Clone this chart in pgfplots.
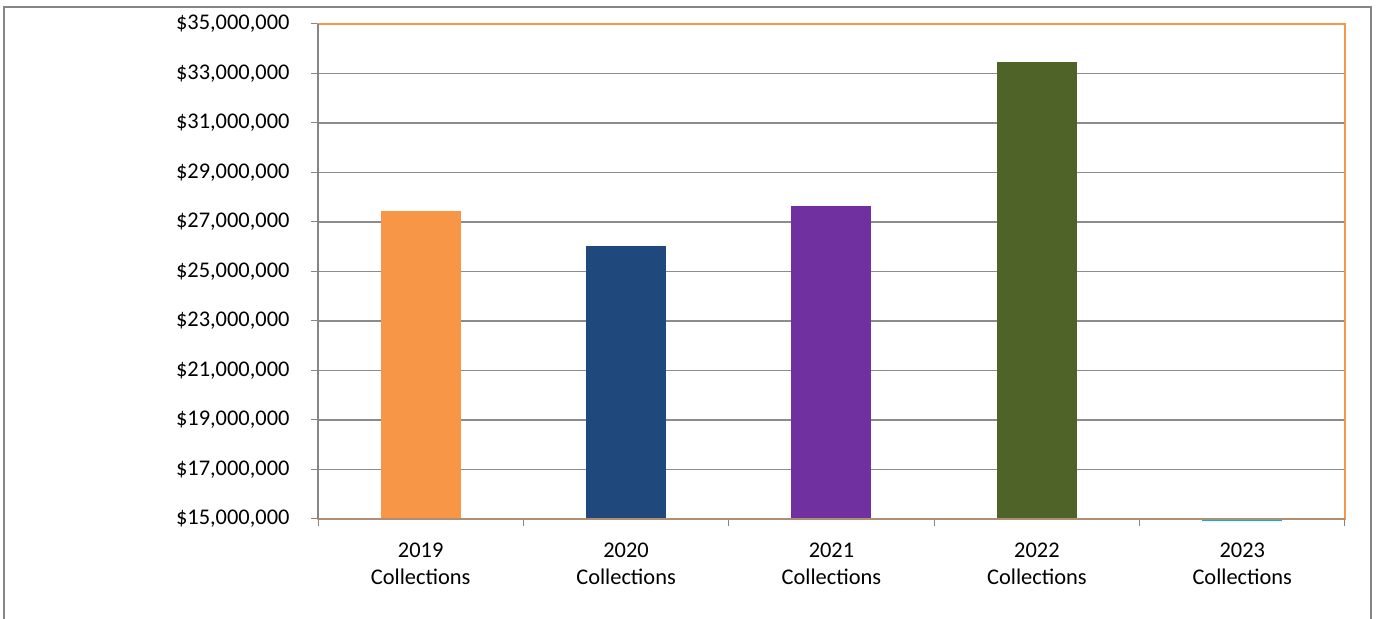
\documentclass[border=0pt]{standalone}
\usepackage{pgfplots}
\pgfplotsset{compat=1.18}
\usepackage{fontspec}
\setmainfont{Carlito}
\definecolor{cOrange}{HTML}{F79646}
\definecolor{cBlue}{HTML}{1F497D}
\definecolor{cPurple}{HTML}{7030A0}
\definecolor{cGreen}{HTML}{4F6228}
\definecolor{cLight}{HTML}{00B0F0}
\definecolor{gridgray}{HTML}{8C8C8C}
\definecolor{axgray}{HTML}{868686}
\definecolor{botline}{HTML}{B08E74}
\begin{document}
\begin{tikzpicture}
\path[use as bounding box] (0,0) rectangle (1379bp,619bp);
\draw[axgray, line width=1.5bp] (4bp,-2bp) -- (4bp,612bp) -- (1371bp,612bp) -- (1371bp,-2bp);
\begin{axis}[
  at={(318bp,100bp)}, anchor=south west,
  scale only axis, width=1027bp, height=495bp,
  xmin=-0.5, xmax=4.5, ymin=15000000, ymax=35000000,
  clip=false,
  scaled y ticks=false,
  axis line style={draw=cOrange, line width=1.2bp},
  xtick pos=bottom, ytick pos=left,
  xtick={0,1,2,3,4},
  xticklabels={{2019\\Collections},{2020\\Collections},{2021\\Collections},{2022\\Collections},{2023\\Collections}},
  xticklabel style={align=center, font=\fontsize{22.5}{28}\selectfont, yshift=-13bp},
  major x tick style={draw=none},
  minor xtick={-0.5,0.5,1.5,2.5,3.5,4.5},
  minor tick length=7bp,
  minor x tick style={draw=axgray, line width=1bp},
  ytick={15000000,17000000,19000000,21000000,23000000,25000000,27000000,29000000,31000000,33000000,35000000},
  yticklabels={{\$15,000,000},{\$17,000,000},{\$19,000,000},{\$21,000,000},{\$23,000,000},{\$25,000,000},{\$27,000,000},{\$29,000,000},{\$31,000,000},{\$33,000,000},{\$35,000,000}},
  yticklabel style={font=\fontsize{22.5}{28}\selectfont, xshift=-18bp},
  tick align=outside,
  major tick length=7bp,
  major y tick style={draw=axgray, line width=1bp},
  ymajorgrids,
  grid style={draw=gridgray, line width=1.2bp},
  ybar, bar width=80bp,
  bar shift=0pt,
]
\addplot[fill=cOrange, draw=none] coordinates {(0,27430000)};
\addplot[fill=cBlue, draw=none] coordinates {(1,26030000)};
\addplot[fill=cPurple, draw=none] coordinates {(2,27650000)};
\addplot[fill=cGreen, draw=none] coordinates {(3,33480000)};
\addplot[fill=cLight, draw=none] coordinates {(4,14930000)};
\draw[cOrange, line width=1.2bp] (rel axis cs:0,1) -- (rel axis cs:1,1) -- (rel axis cs:1,0);
\draw[botline, line width=1.2bp] (rel axis cs:0,0) -- (rel axis cs:1,0);
\draw[axgray, line width=1.2bp] (rel axis cs:0,0) -- (rel axis cs:0,1);
\end{axis}
\end{tikzpicture}
\end{document}
